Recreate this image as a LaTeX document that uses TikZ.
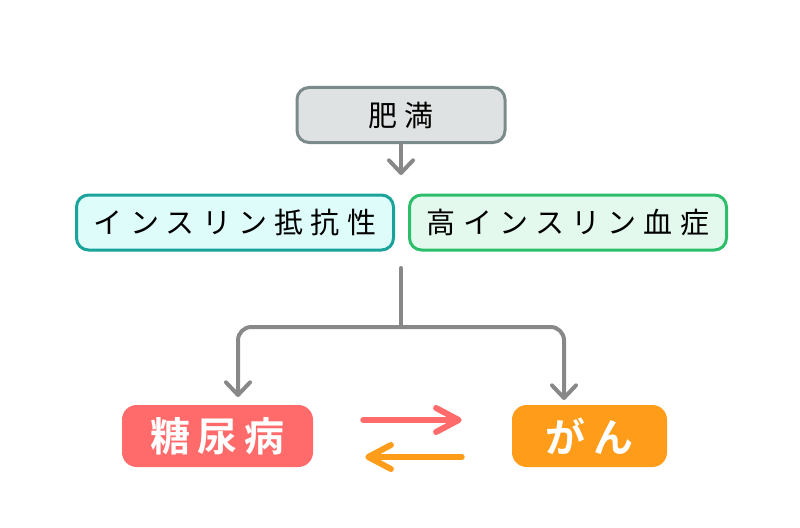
\documentclass[tikz,border=0pt]{standalone}
\usepackage{fontspec}
\newfontfamily\jpfont[LetterSpace=25]{Noto Sans CJK JP}
\newfontfamily\jpbold[LetterSpace=18]{Noto Sans CJK JP Bold}
\usetikzlibrary{arrows.meta,calc}
\definecolor{linkgray}{HTML}{888888}
\definecolor{obfill}{HTML}{DFE2E2}
\definecolor{obdraw}{HTML}{7B8B8B}
\definecolor{irfill}{HTML}{DDFCFA}
\definecolor{irdraw}{HTML}{19A39B}
\definecolor{hifill}{HTML}{E3F9EE}
\definecolor{hidraw}{HTML}{2DBE6C}
\definecolor{dmred}{HTML}{FF6B6B}
\definecolor{caorange}{HTML}{FF9C1A}

\begin{document}
\begin{tikzpicture}[x=0.75pt,y=-0.75pt,
    topbox/.style={draw,line width=2.25pt,rounded corners=9pt,
      font=\jpfont\fontsize{21.75pt}{24pt}\selectfont,text=black,
      minimum height=41.25pt,inner sep=0pt},
    endbox/.style={rounded corners=11pt,text=white,
      font=\jpbold\fontsize{30pt}{33pt}\selectfont,
      minimum height=46.5pt,inner sep=0pt},
    link/.style={linkgray,line width=3pt,line cap=round,line join=round},
    linktip/.style={-{Straight Barb[length=9.5pt,width=18pt,line cap=round,line join=round]}},
    swap/.style={line width=4.5pt,line cap=round,
      -{Straight Barb[length=17pt,width=18pt,line cap=round,line join=round]}}]
		\useasboundingbox (0,0) rectangle (800,528);

		% top
		\node[topbox,fill=obfill,draw=obdraw,minimum width=156pt] (obesity) at (401,115) {肥満};
		\node[topbox,fill=irfill,draw=irdraw,minimum width=237.75pt] (resist) at (235,222.5) {インスリン抵抗性};
		\node[topbox,fill=hifill,draw=hidraw,minimum width=237.75pt] (hyper) at (568,222.5) {高インスリン血症};

		% bottom
		\node[endbox,fill=dmred,minimum width=143.25pt] (diabetes) at (217.5,436) {糖尿病};
		\node[endbox,fill=caorange,minimum width=116.25pt] (cancer) at (589.5,436) {がん};

		\coordinate (obtip) at (401,175);
		\draw[link,linktip] (obesity.south) -- (obtip);

		\coordinate (split) at (401,268);
		\coordinate (fork) at (401,327);
		\coordinate (dmtip) at (238,397);
		\coordinate (catip) at (564,400);
		\draw[link] (split) -- (fork);
		\draw[link,linktip,rounded corners=10pt] (fork) -| (dmtip);
		\draw[link,linktip,rounded corners=10pt] (fork) -| (catip);

		\draw[swap,dmred] ($(diabetes.east)+(50,-16)$) -- ($(cancer.west)+(-50,-16)$);
		\draw[swap,caorange] ($(cancer.west)+(-50,21)$) -- ($(diabetes.east)+(52,21)$);
\end{tikzpicture}
\end{document}
